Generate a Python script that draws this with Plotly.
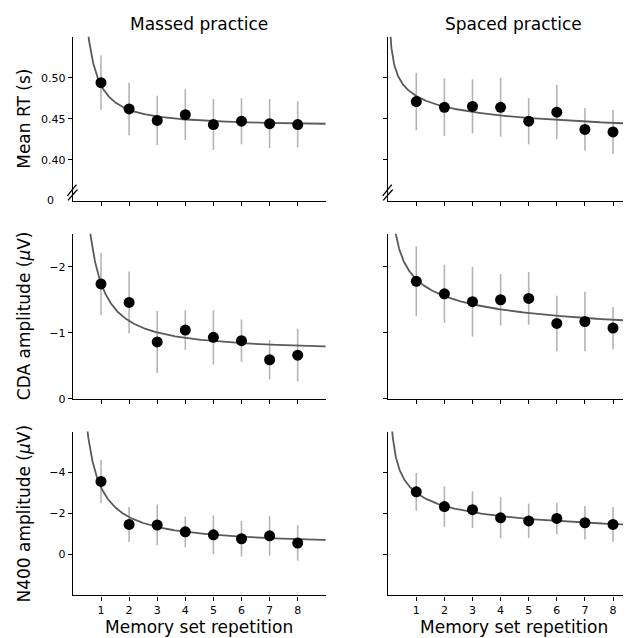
import numpy as np
import plotly.graph_objects as go

# ---------------- data ----------------
repetition = [1, 2, 3, 4, 5, 6, 7, 8]

rt_massed = [0.494, 0.462, 0.448, 0.455, 0.443, 0.447, 0.444, 0.443]
rt_massed_err = [0.033, 0.032, 0.030, 0.031, 0.031, 0.028, 0.030, 0.028]
rt_spaced = [0.471, 0.464, 0.465, 0.464, 0.447, 0.458, 0.437, 0.434]
rt_spaced_err = [0.035, 0.035, 0.033, 0.036, 0.028, 0.033, 0.026, 0.027]

cda_massed = [-1.74, -1.46, -0.86, -1.04, -0.93, -0.88, -0.59, -0.66]
cda_massed_err = [0.47, 0.47, 0.47, 0.30, 0.41, 0.32, 0.30, 0.40]
cda_spaced = [-1.78, -1.59, -1.47, -1.50, -1.52, -1.14, -1.17, -1.07]
cda_spaced_err = [0.53, 0.44, 0.53, 0.39, 0.40, 0.42, 0.45, 0.32]

n400_massed = [-3.57, -1.47, -1.44, -1.11, -0.96, -0.77, -0.91, -0.56]
n400_massed_err = [1.06, 0.85, 0.99, 0.75, 0.95, 0.87, 0.97, 0.87]
n400_spaced = [-3.06, -2.34, -2.19, -1.79, -1.64, -1.76, -1.55, -1.47]
n400_spaced_err = [0.92, 0.98, 0.90, 1.00, 0.84, 0.77, 0.82, 0.85]

# fitted power-law curves y = d + b * x^(-c)  (parameters read from the drawn fits)
fit_rt_massed = [0.4413, 0.0497, 1.336]
fit_rt_spaced = [0.399, 0.0787, 0.258]
fit_cda_massed = [-0.709, -1.041, 1.15]
fit_cda_spaced = [-0.623, -1.187, 0.35]
fit_n400_massed = [-0.402, -2.882, 1.016]
fit_n400_spaced = [-0.166, -2.844, 0.368]

col_titles = ["Massed practice", "Spaced practice"]
row_titles = ["Mean RT (s)", "CDA amplitude (<i>μ</i>V)", "N400 amplitude (<i>μ</i>V)"]
x_title = "Memory set repetition"
x_ticks = [1, 2, 3, 4, 5, 6, 7, 8]
rt_ticks = [0.40, 0.45, 0.50]
rt_ticktext = ["0.40", "0.45", "0.50"]
cda_ticks = [0, -1, -2]
n400_ticks = [0, -2, -4]

# ---------------- layout geometry ----------------
W, H = 631, 638
FONT = "DejaVu Sans"

def px_x(p):
    return p / W

def px_y(p):
    return 1 - p / H

x_domains = [[px_x(64.9), px_x(317.8)], [px_x(380.2), 1.0]]
x_ranges = [[0, 9], [0, 8.925]]
y_domains = [
    [px_y(195), px_y(29)],
    [px_y(395), px_y(228.3)],
    [px_y(594), px_y(428.3)],
]
y_ranges = [[0.35, 0.55], [0, -2.5], [2, -6]]

panels = [
    (0, 0, rt_massed, rt_massed_err, fit_rt_massed),
    (0, 1, rt_spaced, rt_spaced_err, fit_rt_spaced),
    (1, 0, cda_massed, cda_massed_err, fit_cda_massed),
    (1, 1, cda_spaced, cda_spaced_err, fit_cda_spaced),
    (2, 0, n400_massed, n400_massed_err, fit_n400_massed),
    (2, 1, n400_spaced, n400_spaced_err, fit_n400_spaced),
]

fig = go.Figure()
layout = dict(
    width=W, height=H,
    margin=dict(l=0, r=0, t=0, b=0),
    paper_bgcolor="white", plot_bgcolor="white",
    showlegend=False,
    font=dict(family=FONT, size=11, color="black"),
)

xfit = np.linspace(0.03, 9, 600)

for i, (r, c, mean, err, fit) in enumerate(panels):
    n = i + 1
    xa = "x" if n == 1 else f"x{n}"
    ya = "y" if n == 1 else f"y{n}"
    d, b, cc = fit
    yfit = d + b * xfit ** (-cc)
    lo, hi = sorted(y_ranges[r])
    yfit = np.where((yfit >= lo - 0.2 * (hi - lo)) & (yfit <= hi + 0.2 * (hi - lo)), yfit, np.nan)

    # error bars
    fig.add_trace(go.Scatter(
        x=repetition, y=mean, mode="markers", xaxis=xa, yaxis=ya,
        marker=dict(size=1, color="rgba(0,0,0,0)"),
        error_y=dict(type="data", array=err, visible=True, color="#b4b4b4",
                     thickness=1.6, width=0),
        hoverinfo="skip",
    ))
    # fitted curve
    fig.add_trace(go.Scatter(
        x=xfit, y=yfit, mode="lines", xaxis=xa, yaxis=ya,
        line=dict(color="#5a5a5a", width=1.8), connectgaps=False,
    ))
    # means
    fig.add_trace(go.Scatter(
        x=repetition, y=mean, mode="markers", xaxis=xa, yaxis=ya,
        marker=dict(size=11, color="black"),
    ))

    xkey = "xaxis" if n == 1 else f"xaxis{n}"
    ykey = "yaxis" if n == 1 else f"yaxis{n}"
    layout[xkey] = dict(
        domain=x_domains[c], range=x_ranges[c], anchor=ya,
        showline=True, linecolor="black", linewidth=1.3,
        ticks="outside", ticklen=4, tickwidth=1, tickcolor="black",
        tickvals=x_ticks, showticklabels=(r == 2),
        tickfont=dict(size=11, family=FONT),
        showgrid=False, zeroline=False,
    )
    if r == 0:
        tv, tt = rt_ticks, rt_ticktext
    elif r == 1:
        tv, tt = cda_ticks, None
    else:
        tv, tt = n400_ticks, None
    ydict = dict(
        domain=y_domains[r], range=y_ranges[r], anchor=xa,
        showline=True, linecolor="black", linewidth=1.3,
        ticks="outside", ticklen=4, tickwidth=1, tickcolor="black",
        tickvals=tv, showticklabels=(c == 0),
        tickfont=dict(size=11, family=FONT),
        showgrid=False, zeroline=False,
    )
    if tt is not None:
        ydict["ticktext"] = tt
    layout[ykey] = ydict

annotations = []
for c, t in enumerate(col_titles):
    annotations.append(dict(
        text=t, x=(x_domains[c][0] + px_x(317.8 if c == 0 else 631)) / 2 if False else sum(x_domains[c]) / 2,
        y=px_y(16.5), xref="paper", yref="paper", showarrow=False,
        xanchor="center", yanchor="middle", font=dict(size=17, family=FONT),
    ))
for r, t in enumerate(row_titles):
    annotations.append(dict(
        text=t, x=px_x(16), y=sum(y_domains[r]) / 2, xref="paper", yref="paper",
        showarrow=False, textangle=-90, xanchor="center", yanchor="middle",
        font=dict(size=17, family=FONT),
    ))
for c in range(2):
    annotations.append(dict(
        text=x_title, x=sum(x_domains[c]) / 2, y=px_y(626), xref="paper", yref="paper",
        showarrow=False, xanchor="center", yanchor="middle",
        font=dict(size=17, family=FONT),
    ))
# "0" label at the broken RT axis
annotations.append(dict(
    text="0", x=px_x(48), y=px_y(195), xref="paper", yref="paper",
    showarrow=False, xanchor="right", yanchor="middle", font=dict(size=11, family=FONT),
))
layout["annotations"] = annotations

# axis-break marks on the RT panels
shapes = []
for sx in [64.9, 380.2]:
    for (x0, y0, x1, y1) in [(-5.5, 190, 3.5, 178.5), (-5, 194.5, 4.5, 183.5)]:
        shapes.append(dict(
            type="line", xref="paper", yref="paper",
            x0=px_x(sx + x0), y0=px_y(y0), x1=px_x(sx + x1), y1=px_y(y1),
            line=dict(color="black", width=1.3),
        ))
layout["shapes"] = shapes

fig.update_layout(**layout)
fig.write_html("out.html")
